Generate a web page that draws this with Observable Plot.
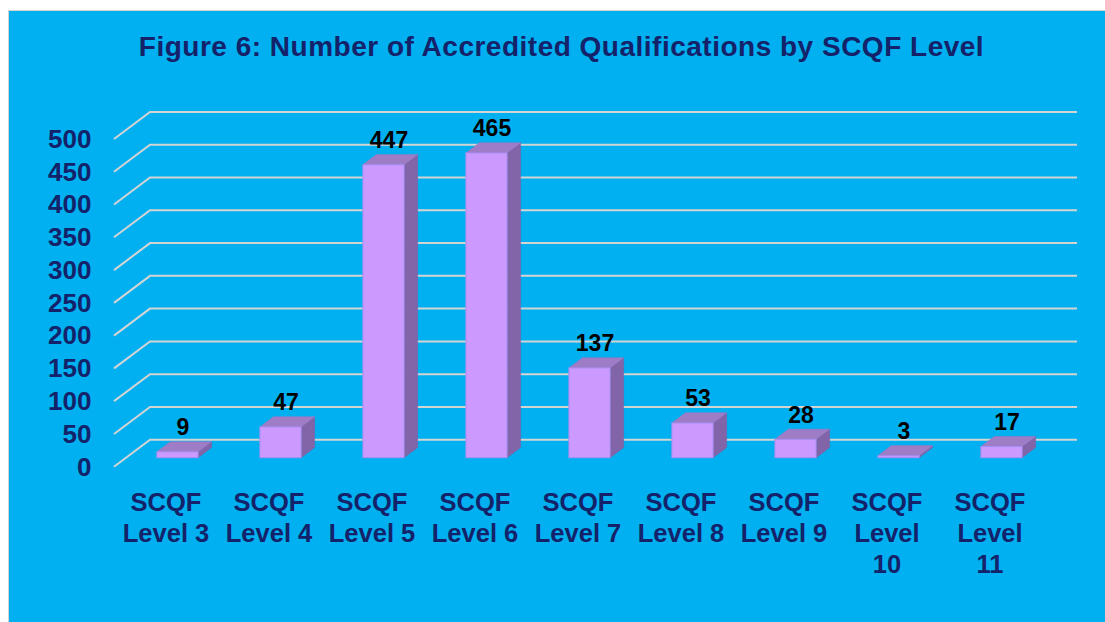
<!DOCTYPE html>
<html>
<head>
<meta charset="utf-8">
<script src="https://cdn.jsdelivr.net/npm/d3@7"></script>
<script src="https://cdn.jsdelivr.net/npm/@observablehq/plot@0.6"></script>
<style>
  html, body { margin: 0; padding: 0; width: 1105px; height: 622px; overflow: hidden; background: #ffffff;
    font-family: Arial, "Liberation Sans", sans-serif; }
  #panel { position: absolute; left: 8px; top: 10px; width: 1097px; height: 612px; background: #00B0F0;
    border-left: 1px solid #d2d2d2; border-top: 1px solid #d2d2d2; box-sizing: border-box; }
  #title { position: absolute; left: 13px; top: 33px; width: 1097px; text-align: center; font-size: 28px;
    line-height: 28px; font-weight: bold; color: #14226a; letter-spacing: 0.5px; white-space: nowrap; }
  #chart { position: absolute; left: 0; top: 80px; }
  #chart svg { background: transparent; overflow: visible; }
</style>
</head>
<body>
<div id="panel"></div>
<div id="title">Figure 6: Number of Accredited Qualifications by SCQF Level</div>
<div id="chart"></div>
<script>
// ---- data ----
const levels = ["SCQF Level 3", "SCQF Level 4", "SCQF Level 5", "SCQF Level 6", "SCQF Level 7",
                "SCQF Level 8", "SCQF Level 9", "SCQF Level 10", "SCQF Level 11"];
const categoryLabels = ["SCQF\nLevel 3", "SCQF\nLevel 4", "SCQF\nLevel 5", "SCQF\nLevel 6", "SCQF\nLevel 7",
                        "SCQF\nLevel 8", "SCQF\nLevel 9", "SCQF\nLevel\n10", "SCQF\nLevel\n11"];
const qualifications = [9, 47, 447, 465, 137, 53, 28, 3, 17];
const yTicks = [0, 50, 100, 150, 200, 250, 300, 350, 400, 450, 500];

const data = levels.map((level, i) => ({i, level, label: categoryLabels[i], value: qualifications[i]}));

// ---- 3D geometry (pixels) ----
const DX = 36, DY = -27;        // floor depth vector
const F1 = 0.333, F2 = 0.708;   // bar depth start/end (fraction of floor depth)
const BAR_FRAC = 0.4;           // bar width as share of category band

const navy = "#14226a";

function gridMark(index, scales) {
  const {x, y} = scales;
  const g = d3.create("svg:g").attr("fill", "none").attr("stroke", "#d4d4d4").attr("stroke-width", 2);
  const xl = x(-0.5), xr = x(levels.length - 0.5);
  for (const v of yTicks) {
    const yy = y(v);
    g.append("path").attr("d", `M${xl},${yy}L${xl + DX},${yy + DY}L${xr + DX},${yy + DY}`);
  }
  return g.node();
}

function barsMark(index, scales) {
  const {x, y} = scales;
  const g = d3.create("svg:g");
  const band = x(1) - x(0);
  const hw = band * BAR_FRAC / 2;
  const ddx = DX * (F2 - F1), ddy = DY * (F2 - F1);
  for (const d of data) {
    const xc = x(d.i) + DX * F1;
    const y0 = y(0) + DY * F1;
    const yt = y(d.value) + DY * F1;
    const xa = xc - hw, xb = xc + hw;
    // side face
    g.append("path")
      .attr("d", `M${xb},${y0}L${xb},${yt}L${xb + ddx},${yt + ddy}L${xb + ddx},${y0 + ddy}Z`)
      .attr("fill", "#8264a8").attr("stroke", "#7d62a6").attr("stroke-width", 0.6);
    // top face
    g.append("path")
      .attr("d", `M${xa},${yt}L${xb},${yt}L${xb + ddx},${yt + ddy}L${xa + ddx},${yt + ddy}Z`)
      .attr("fill", "#9f7cc6").attr("stroke", "#9a78c4").attr("stroke-width", 0.6);
    // front face
    g.append("rect")
      .attr("x", xa).attr("y", yt).attr("width", xb - xa).attr("height", Math.max(0, y0 - yt))
      .attr("fill", "#cc99ff").attr("stroke", "#a48ff0").attr("stroke-width", 1);
  }
  return g.node();
}

const chart = Plot.plot({
  width: 1105,
  height: 542,
  marginLeft: 114,
  marginRight: 64,
  marginTop: 59,
  marginBottom: 155.3,
  x: {type: "linear", domain: [-0.5, levels.length - 0.5], axis: null},
  y: {type: "linear", domain: [0, 500], axis: null},
  style: {background: "transparent", overflow: "visible", fontFamily: "Arial, 'Liberation Sans', sans-serif"},
  marks: [
    gridMark,
    barsMark,
    // y tick labels
    Plot.text(yTicks, {x: () => -0.5, y: d => d, text: d => String(d), textAnchor: "end", dx: -23,
      lineAnchor: "middle", fontSize: 26, fontWeight: "bold", fill: navy}),
    // category labels
    Plot.text(data, {x: "i", y: () => 0, text: "label", textAnchor: "middle", lineAnchor: "top",
      dy: 22, lineHeight: 1.22, fontSize: 25.5, fontWeight: "bold", fill: navy}),
    // value labels
    Plot.text(data, {x: "i", y: "value", text: d => String(d.value), textAnchor: "middle", lineAnchor: "bottom",
      dx: 17, dy: -26, fontSize: 23, fontWeight: "bold", fill: "#000000"})
  ]
});
document.getElementById("chart").appendChild(chart);
</script>
</body>
</html>
